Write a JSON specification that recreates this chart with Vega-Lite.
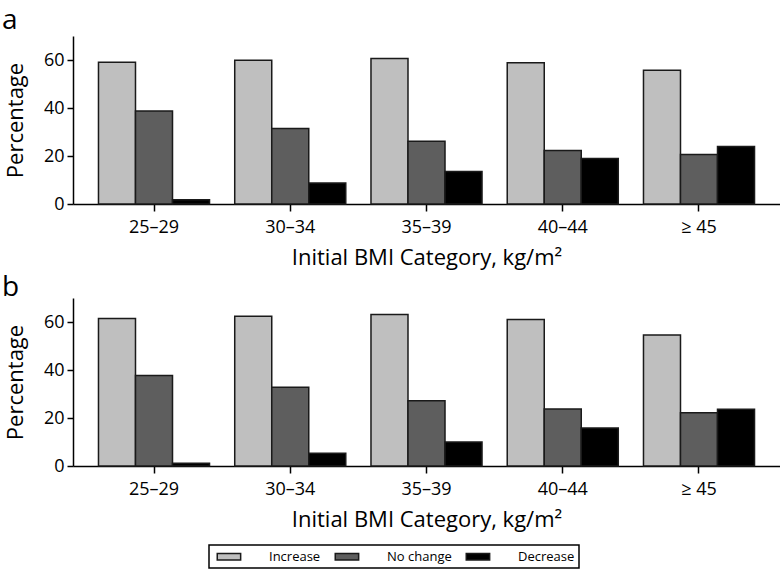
{
  "$schema": "https://vega.github.io/schema/vega-lite/v6.json",
  "padding": {"left": 2, "top": 7, "right": 0, "bottom": 0},
  "data": {
    "values": [
      {"panel": "a", "bmi": "25–29", "change": "Increase", "pct": 59.1},
      {"panel": "a", "bmi": "25–29", "change": "No change", "pct": 38.8},
      {"panel": "a", "bmi": "25–29", "change": "Decrease", "pct": 1.8},
      {"panel": "a", "bmi": "30–34", "change": "Increase", "pct": 59.9},
      {"panel": "a", "bmi": "30–34", "change": "No change", "pct": 31.5},
      {"panel": "a", "bmi": "30–34", "change": "Decrease", "pct": 8.7},
      {"panel": "a", "bmi": "35–39", "change": "Increase", "pct": 60.6},
      {"panel": "a", "bmi": "35–39", "change": "No change", "pct": 26.1},
      {"panel": "a", "bmi": "35–39", "change": "Decrease", "pct": 13.5},
      {"panel": "a", "bmi": "40–44", "change": "Increase", "pct": 58.9},
      {"panel": "a", "bmi": "40–44", "change": "No change", "pct": 22.3},
      {"panel": "a", "bmi": "40–44", "change": "Decrease", "pct": 19.0},
      {"panel": "a", "bmi": "≥ 45", "change": "Increase", "pct": 55.7},
      {"panel": "a", "bmi": "≥ 45", "change": "No change", "pct": 20.6},
      {"panel": "a", "bmi": "≥ 45", "change": "Decrease", "pct": 24.0},
      {"panel": "b", "bmi": "25–29", "change": "Increase", "pct": 61.5},
      {"panel": "b", "bmi": "25–29", "change": "No change", "pct": 37.7},
      {"panel": "b", "bmi": "25–29", "change": "Decrease", "pct": 1.1},
      {"panel": "b", "bmi": "30–34", "change": "Increase", "pct": 62.4},
      {"panel": "b", "bmi": "30–34", "change": "No change", "pct": 32.8},
      {"panel": "b", "bmi": "30–34", "change": "Decrease", "pct": 5.3},
      {"panel": "b", "bmi": "35–39", "change": "Increase", "pct": 63.1},
      {"panel": "b", "bmi": "35–39", "change": "No change", "pct": 27.2},
      {"panel": "b", "bmi": "35–39", "change": "Decrease", "pct": 10.0},
      {"panel": "b", "bmi": "40–44", "change": "Increase", "pct": 61.0},
      {"panel": "b", "bmi": "40–44", "change": "No change", "pct": 23.7},
      {"panel": "b", "bmi": "40–44", "change": "Decrease", "pct": 15.8},
      {"panel": "b", "bmi": "≥ 45", "change": "Increase", "pct": 54.6},
      {"panel": "b", "bmi": "≥ 45", "change": "No change", "pct": 22.2},
      {"panel": "b", "bmi": "≥ 45", "change": "Decrease", "pct": 23.6}
    ]
  },
  "spacing": 6,
  "vconcat": [
    {
      "title": {"text": "a", "anchor": "start", "frame": "group", "dx": -71, "fontSize": 28, "fontWeight": "normal", "offset": 1},
      "width": 707,
      "height": 168,
      "transform": [{"filter": "datum.panel == 'a'"}],
      "mark": {"type": "bar", "stroke": "#1a1a1a", "strokeWidth": 1.5},
      "encoding": {
        "x": {"field": "bmi", "type": "nominal", "sort": null, "scale": {"paddingInner": 0.185, "paddingOuter": 0.187},
              "axis": {"title": "Initial BMI Category, kg/m²", "labelAngle": 0, "tickSize": 7, "labelPadding": 7, "titlePadding": 11}},
        "xOffset": {"field": "change", "type": "nominal", "sort": ["Increase", "No change", "Decrease"]},
        "y": {"field": "pct", "type": "quantitative", "scale": {"domain": [0, 70], "nice": false},
              "axis": {"title": "Percentage", "values": [0, 20, 40, 60], "tickSize": 6, "labelPadding": 3, "titlePadding": 16}},
        "color": {"field": "change", "type": "nominal",
                  "scale": {"domain": ["Increase", "No change", "Decrease"], "range": ["#bfbfbf", "#5e5e5e", "#000000"]},
                  "legend": {"title": null, "orient": "none", "direction": "horizontal", "legendX": 136, "legendY": 509}}
      }
    },
    {
      "title": {"text": "b", "anchor": "start", "frame": "group", "dx": -71, "fontSize": 28, "fontWeight": "normal", "offset": -4},
      "width": 707,
      "height": 168,
      "transform": [{"filter": "datum.panel == 'b'"}],
      "mark": {"type": "bar", "stroke": "#1a1a1a", "strokeWidth": 1.5},
      "encoding": {
        "x": {"field": "bmi", "type": "nominal", "sort": null, "scale": {"paddingInner": 0.185, "paddingOuter": 0.187},
              "axis": {"title": "Initial BMI Category, kg/m²", "labelAngle": 0, "tickSize": 7, "labelPadding": 7, "titlePadding": 11}},
        "xOffset": {"field": "change", "type": "nominal", "sort": ["Increase", "No change", "Decrease"]},
        "y": {"field": "pct", "type": "quantitative", "scale": {"domain": [0, 70], "nice": false},
              "axis": {"title": "Percentage", "values": [0, 20, 40, 60], "tickSize": 6, "labelPadding": 3, "titlePadding": 16}},
        "color": {"field": "change", "type": "nominal",
                  "scale": {"domain": ["Increase", "No change", "Decrease"], "range": ["#bfbfbf", "#5e5e5e", "#000000"]},
                  "legend": {"title": null, "orient": "none", "direction": "horizontal", "legendX": 136, "legendY": 509}}
      }
    }
  ],
  "config": {
    "font": "Open Sans",
    "view": {"stroke": null},
    "title": {"color": "black", "baseline": "alphabetic"},
    "axis": {
      "domainColor": "black", "domainWidth": 1.5, "tickColor": "black", "tickWidth": 1.5,
      "labelColor": "black", "titleColor": "black", "grid": false,
      "labelFontSize": 18, "titleFontSize": 22, "titleFontWeight": "normal"
    },
    "legend": {
      "strokeColor": "black", "strokeWidth": 1.5, "padding": 4,
      "symbolType": "M-0.5,-0.5H3.1V0.5H-0.5Z", "symbolSize": 169,
      "symbolStrokeColor": "#1a1a1a", "symbolStrokeWidth": 1.5, "symbolOpacity": 1,
      "labelOffset": 41, "labelFontSize": 13, "labelColor": "black", "columnPadding": 10
    }
  }
}
